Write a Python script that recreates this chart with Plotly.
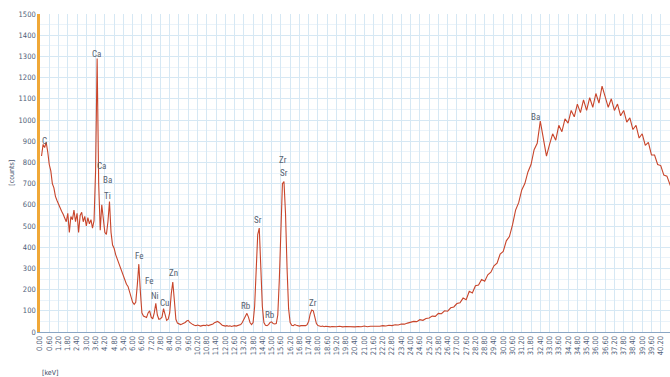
import plotly.graph_objects as go

# ---- data: low-energy segment, 0.1 keV channels starting at 0.1 keV ----
lo_start = 0.1
lo_step = 0.1
counts_lo = [
    830, 885, 870, 895, 850, 790, 760, 700, 680, 640,          # 0.1-1.0
    620, 600, 585, 570, 555, 540, 520, 560, 470, 545,          # 1.1-2.0
    530, 575, 520, 560, 470, 550, 565, 520, 545, 500,          # 2.1-3.0
    540, 510, 530, 490, 525, 760, 1290, 700, 480, 600,         # 3.1-4.0
    520, 470, 460, 520, 615, 470, 410, 395, 365, 345,          # 4.1-5.0
    325, 300, 290, 260, 250, 225, 215, 185, 170, 140,          # 5.1-6.0
    130, 140, 220, 320, 190, 90, 75, 70, 68, 90,               # 6.1-7.0
    100, 70, 62, 90, 135, 80, 60, 62, 70, 110,                 # 7.1-8.0
    85, 55, 60, 90, 180, 236, 150, 60, 42, 38,                 # 8.1-9.0
    35, 38, 40, 45, 52, 55, 45, 38, 35, 32,                    # 9.1-10.0
    30, 33, 30, 28, 30, 32, 30, 34, 30, 32,                    # 10.1-11.0
    35, 38, 44, 48, 50, 45, 38, 32, 30, 28,                    # 11.1-12.0
    30, 27, 29, 26, 28, 30, 28, 30, 32, 35,                    # 12.1-13.0
    45, 60, 80, 88, 70, 45, 35, 45, 120, 300,                  # 13.1-14.0
    460, 490, 330, 120, 45, 32, 30, 35, 45, 48,                # 14.1-15.0
    40, 38, 40, 80, 250, 520, 700, 710, 560, 300,              # 15.1-16.0
    110, 45, 32, 30, 35, 32, 30, 28, 30, 30,                   # 16.1-17.0
    28, 30, 35, 50, 85, 104, 100, 70, 40, 30,                  # 17.1-18.0
    28, 26, 28, 25, 27, 25, 26, 24, 26, 25,                    # 18.1-19.0
]

# ---- data: high-energy segment, 0.2 keV channels starting at 19.2 keV ----
hi_start = 19.2
hi_step = 0.2
counts_hi = [
    25, 27, 24, 26, 25, 27, 24, 26, 25, 28,                    # 19.2-21.0
    25, 27, 26, 28, 27, 30, 28, 32, 30, 34,                    # 21.2-23.0
    33, 38, 37, 42, 45, 50, 49, 58, 55, 64,                    # 23.2-25.0
    66, 75, 74, 88, 86, 100, 98, 114, 118, 134,                # 25.2-27.0
    138, 160, 152, 192, 184, 218, 222, 248, 240, 270,          # 27.2-29.0
    282, 312, 325, 368, 380, 430, 450, 505, 575, 610,          # 29.2-31.0
    670, 700, 755, 790, 860, 890, 995, 915, 830, 885,          # 31.2-32.8
    935, 905, 975, 945, 1005, 985, 1045, 1015, 1075, 1035,     # 33.0-34.8
    1095, 1045, 1105, 1060, 1125, 1080, 1160, 1110, 1060, 1100,  # 35.0-36.8
    1045, 1075, 1020, 1045, 990, 1010, 955, 975, 915, 935,     # 37.0-38.8
    880, 895, 835, 835, 790, 785, 740, 735, 690, 655, 620,     # 39.0-41.0
]

peak_labels = ["C", "Ca", "Ca", "Ba", "Ti", "Fe", "Fe", "Ni", "Cu", "Zn",
               "Rb", "Sr", "Rb", "Zr", "Sr", "Zr", "Ba"]
label_energy = [0.3, 3.69, 4.0, 4.4, 4.4, 6.4, 7.05, 7.45, 8.05, 8.65,
                13.35, 14.1, 14.9, 15.75, 15.8, 17.65, 32.1]
label_counts = [900, 1310, 783, 717, 642, 358, 240, 170, 137, 278,
                123, 528, 80, 811, 750, 137, 1014]

tick_vals = [round(i * 0.6, 2) for i in range(68)]
tick_text = ["%.2f" % v for v in tick_vals]

energy = [round(lo_start + i * lo_step, 2) for i in range(len(counts_lo))] + \
         [round(hi_start + i * hi_step, 2) for i in range(len(counts_hi))]
counts = counts_lo + counts_hi

fig = go.Figure()
fig.add_trace(go.Scatter(
    x=energy, y=counts, mode="lines",
    line=dict(color="#c8452b", width=1.1),
    hoverinfo="skip", showlegend=False,
))

for t, e, c in zip(peak_labels, label_energy, label_counts):
    fig.add_annotation(x=e, y=c, text=t, showarrow=False,
                       font=dict(family="Liberation Sans Narrow, Roboto Condensed, Arial Narrow, sans-serif",
                                 size=9, color="#556170"))

fig.add_annotation(xref="paper", yref="paper", x=0.0, y=-0.128, xanchor="left",
                   yanchor="middle", text="[keV]", showarrow=False,
                   font=dict(family="DejaVu Sans Condensed, sans-serif", size=7, color="#3e4a64"))
fig.add_annotation(xref="paper", yref="paper", x=-0.045, y=0.5, xanchor="center",
                   yanchor="middle", text="[counts]", textangle=-90, showarrow=False,
                   font=dict(family="DejaVu Sans Condensed, sans-serif", size=7, color="#4a5670"))

fig.update_xaxes(
    range=[0, 40.8], tickmode="array", tickvals=tick_vals, ticktext=tick_text,
    tickangle=-90, tickfont=dict(family="DejaVu Sans Condensed, sans-serif", size=7.5, color="#4f5e78"),
    showgrid=True, gridcolor="#d6e8f4", gridwidth=1, automargin=False,
    showline=True, linecolor="#8aa6c4", linewidth=1, ticks="", zeroline=False,
)
fig.update_yaxes(
    range=[0, 1500], tickmode="linear", tick0=0, dtick=100,
    tickfont=dict(family="DejaVu Sans Condensed, sans-serif", size=7.5, color="#4f5e78"),
    showgrid=True, gridcolor="#d6e8f4", gridwidth=1, automargin=False,
    minor=dict(dtick=50, showgrid=True, gridcolor="#eaf3fa"),
    showline=True, linecolor="#f0a838", linewidth=2.5, ticks="", zeroline=False,
)

fig.update_layout(
    width=670, height=377,
    margin=dict(l=40, r=0, t=14, b=45),
    paper_bgcolor="white", plot_bgcolor="white",
)

fig.write_html("out.html", config={"displayModeBar": False},
               post_script="document.body.style.margin='0';document.body.style.overflow='hidden';")
